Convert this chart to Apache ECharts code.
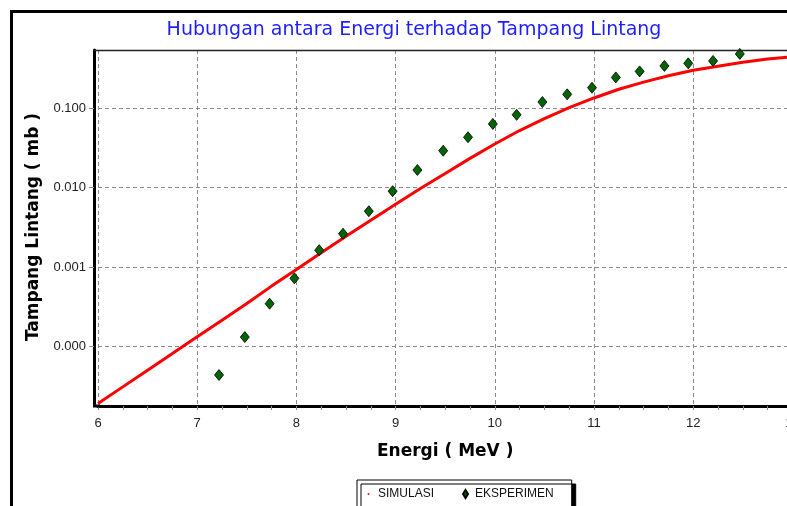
<!DOCTYPE html>
<html>
<head>
<meta charset="utf-8">
<script src="https://cdn.jsdelivr.net/npm/echarts@6/dist/echarts.min.js"></script>
<style>
html,body{margin:0;padding:0;background:#fff;}
#chart{width:787px;height:506px;}
</style>
</head>
<body>
<div id="chart"></div>
<script>
// ---- data ----
const judul = 'Hubungan antara Energi terhadap Tampang Lintang';
const namaSumbuX = 'Energi ( MeV )';
const namaSumbuY = 'Tampang Lintang ( mb )';
const namaSeri = ['SIMULASI', 'EKSPERIMEN'];

// simulation curve (MeV, mb)
const energiSimulasi = [6.00, 6.25, 6.50, 6.75, 7.00, 7.25, 7.50, 7.75, 8.00, 8.25, 8.50, 8.75, 9.00, 9.25, 9.50, 9.75, 10.00, 10.25, 10.50, 10.75, 11.00, 11.25, 11.50, 11.75, 12.00, 12.25, 12.50, 12.75, 13.00];
const tampangSimulasi = [1.91e-5, 3.09e-5, 5.01e-5, 8.13e-5, 1.32e-4, 2.14e-4, 3.47e-4, 5.75e-4, 9.33e-4, 1.51e-3, 2.45e-3, 3.89e-3, 6.17e-3, 9.77e-3, 1.51e-2, 2.34e-2, 3.55e-2, 5.25e-2, 7.41e-2, 0.102, 0.135, 0.174, 0.214, 0.257, 0.302, 0.339, 0.380, 0.417, 0.447];

// experimental points (MeV, mb)
const energiEksperimen = [7.22, 7.48, 7.73, 7.98, 8.23, 8.47, 8.73, 8.97, 9.22, 9.48, 9.73, 9.98, 10.22, 10.48, 10.73, 10.98, 11.22, 11.46, 11.71, 11.95, 12.20, 12.47];
const tampangEksperimen = [4.36e-5, 1.31e-4, 3.45e-4, 7.21e-4, 1.63e-3, 2.63e-3, 5.05e-3, 9.04e-3, 1.67e-2, 2.92e-2, 4.32e-2, 6.36e-2, 8.28e-2, 0.120, 0.150, 0.182, 0.245, 0.292, 0.342, 0.369, 0.395, 0.485];

// axis ticks
const xMin = 6, xMax = 13, xStep = 1;
const yMin = 1.88e-5, yMax = 0.543;
const yTickValues = [0.0001, 0.001, 0.01, 0.1];

// ---- build chart ----
const simData = energiSimulasi.map((e, i) => [e, tampangSimulasi[i]]);
const eksData = energiEksperimen.map((e, i) => [e, tampangEksperimen[i]]);

const chart = echarts.init(document.getElementById('chart'), null, {renderer: 'canvas'});
const gridLeft = 98, gridTop = 50, gridWidth = 694.4, gridHeight = 354;
const dash = {color: '#8a8a8a', width: 1, type: [4, 3]};

chart.setOption({
  animation: false,
  backgroundColor: '#ffffff',
  title: {
    text: judul,
    left: 409, top: 16,
    textAlign: 'center',
    textStyle: {color: '#1e1eff', fontFamily: 'DejaVu Sans', fontSize: 19, fontWeight: 'normal'}
  },
  graphic: [
    {type: 'rect', z: -1, silent: true, shape: {x: 11.5, y: 11.5, width: 820, height: 540},
     style: {fill: 'none', stroke: '#000', lineWidth: 3}},
    {type: 'line', z: 10, silent: true, shape: {x1: 93, y1: 50.5, x2: 790, y2: 50.5},
     style: {stroke: '#222', lineWidth: 1.5}},
    {type: 'line', z: 10, silent: true, shape: {x1: 93, y1: 406, x2: 100, y2: 406},
     style: {stroke: '#000', lineWidth: 3}}
  ],
  legend: {
    left: 357, top: 480,
    orient: 'horizontal',
    padding: [8, 18, 8, 7],
    itemGap: 26,
    itemWidth: 9, itemHeight: 9,
    backgroundColor: '#fff',
    borderColor: '#000', borderWidth: 1,
    shadowColor: '#000', shadowBlur: 0, shadowOffsetX: 4, shadowOffsetY: 4,
    textStyle: {color: '#111', fontFamily: 'Liberation Sans', fontSize: 12},
    data: [
      {name: namaSeri[0], icon: 'path://M0,0M9,9M3.5,4.5a1,1 0 1,0 2,0a1,1 0 1,0 -2,0'},
      {name: namaSeri[1], icon: 'path://M0,0M9,9M4.5,0.5L7,4.5L4.5,8.5L2,4.5Z'}
    ]
  },
  grid: {left: gridLeft, top: gridTop, width: gridWidth, height: gridHeight,
         containLabel: false, outerBoundsMode: 'none'},
  xAxis: {
    type: 'value',
    min: xMin, max: xMax, interval: xStep,
    offset: 2,
    name: namaSumbuX,
    nameLocation: 'middle',
    nameGap: 37,
    nameTextStyle: {color: '#000', fontFamily: 'DejaVu Sans', fontSize: 17, fontWeight: 'bold'},
    axisLine: {show: true, onZero: false, lineStyle: {color: '#000', width: 3}},
    axisTick: {show: true, length: 4, lineStyle: {color: '#8a8a8a'}},
    minorTick: {show: true, splitNumber: 4, length: 4, lineStyle: {color: '#8a8a8a'}},
    axisLabel: {color: '#222', fontFamily: 'Liberation Sans', fontSize: 13, margin: 11,
                showMinLabel: true, showMaxLabel: true, hideOverlap: false},
    splitLine: {show: true, lineStyle: dash}
  },
  yAxis: {
    type: 'log',
    logBase: 10,
    min: yMin, max: yMax,
    offset: 4,
    name: namaSumbuY,
    nameLocation: 'middle',
    nameGap: 50,
    nameTextStyle: {color: '#000', fontFamily: 'DejaVu Sans', fontSize: 17, fontWeight: 'bold'},
    axisLine: {show: true, lineStyle: {color: '#000', width: 3}},
    axisTick: {show: true, length: 5, lineStyle: {color: '#8a8a8a'}, customValues: yTickValues},
    axisLabel: {color: '#222', fontFamily: 'Liberation Sans', fontSize: 13, margin: 8,
                customValues: yTickValues,
                formatter: v => Number(v).toFixed(3)},
    splitLine: {show: true, lineStyle: dash}
  },
  series: [
    {
      name: namaSeri[0],
      type: 'line',
      data: simData,
      showSymbol: false,
      symbol: 'circle',
      color: '#ff0000',
      lineStyle: {color: '#ff0000', width: 3},
      itemStyle: {color: '#ff0000'},
      z: 2
    },
    {
      name: namaSeri[1],
      type: 'scatter',
      data: eksData,
      symbol: 'diamond',
      symbolSize: [9, 11],
      color: '#006400',
      itemStyle: {color: '#006400', borderColor: '#000', borderWidth: 0.8, opacity: 1},
      z: 3
    }
  ]
});
</script>
</body>
</html>
